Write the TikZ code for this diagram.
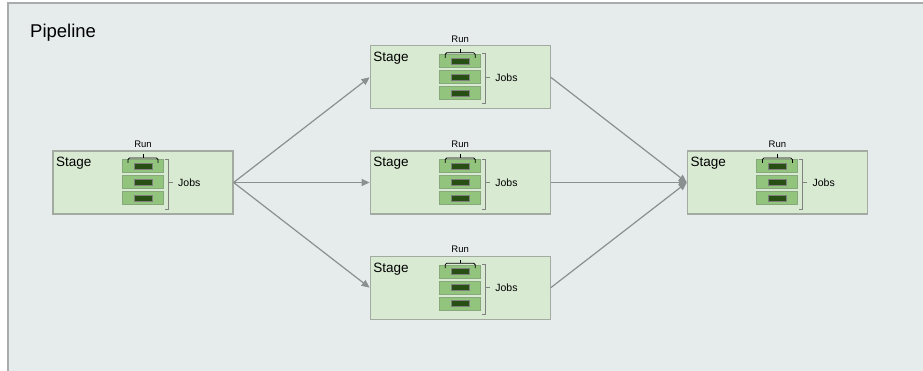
\documentclass[tikz,border=0pt]{standalone}
\usepackage{fontspec}
\setmainfont{Liberation Sans}
\usetikzlibrary{arrows.meta,positioning,calc}
\definecolor{pipebg}{HTML}{E6EBEB}
\definecolor{pipeborder}{HTML}{A8ACAC}
\definecolor{stagebg}{HTML}{D9EAD3}
\definecolor{stageborder}{HTML}{A2AAA2}
\definecolor{jobfill}{HTML}{93C47D}
\definecolor{jobborder}{HTML}{86A87A}
\definecolor{jobcore}{HTML}{274E13}
\definecolor{flowgray}{HTML}{8A8F8F}

\begin{document}
\begin{tikzpicture}[
  x=1pt,y=1pt,
  node distance=41pt and 136pt,
  stage/.style={draw=stageborder,line width=1.2pt,fill=stagebg,
                minimum width=180pt,minimum height=63pt,inner sep=0pt},
  stagelabel/.style={anchor=base west,inner sep=0pt,
                     font=\fontsize{13.5}{15}\selectfont},
  jobbar/.style={draw=jobborder,line width=1pt,fill=jobfill,
                 minimum width=41pt,minimum height=13pt,inner sep=0pt},
  jobinner/.style={draw=gray,line width=0.6pt,fill=jobcore,
                   minimum width=18pt,minimum height=6pt,inner sep=0pt},
  small/.style={inner sep=0pt,font=\fontsize{9.5}{11}\selectfont},
  runbrace/.style={draw=black,line width=0.8pt,rounded corners=1.5pt},
  jobsbrace/.style={draw=gray,line width=0.9pt},
  flow/.style={draw=flowgray,line width=1.2pt,-{Triangle[length=8pt,width=7pt]}}
]
\clip (0,0) rectangle (923,-371);
\fill[white] (0,0) rectangle (923,-371);
\draw[draw=pipeborder,line width=1.2pt,fill=pipebg] (8,-3) rectangle (940,-390);
\node[anchor=base west,inner sep=0pt,font=\fontsize{18.5}{20}\selectfont] (title) at (30,-38) {Pipeline};

\node[stage] (st1) at (143,-182.5) {};
\node[stage,right=of st1] (st3) {};
\node[stage,above=of st3] (st2) {};
\node[stage,below=of st3] (st4) {};
\node[stage,right=of st3] (st5) {};

% stage contents
\foreach \s in {st1,st2,st3,st4,st5}{
  \node[stagelabel] (\s-name) at ($(\s.north west)+(3.5,-16.5)$) {Stage};
  \foreach \dy/\i in {16/a,0/b,-16/c}{
    \node[jobbar] (\s-job\i) at ($(\s.center)+(0,\dy)$) {};
    \node[jobinner] (\s-core\i) at (\s-job\i.center) {};
  }
  \draw[runbrace] ($(\s.center)+(-15,19.5)$) -- ++(0,5) -- ++(30,0) -- ++(0,-5);
  \draw[runbrace] ($(\s.center)+(0,24.5)$) -- ++(0,3.5);
  \node[small] (\s-run) at ($(\s.north)+(0,6)$) {Run};
  \draw[jobsbrace] ($(\s.center)+(22,23.5)$) -- ++(3,0) -- ++(0,-50) -- ++(-3,0);
  \draw[jobsbrace] ($(\s.center)+(26,0)$) -- ++(4,0);
  \node[small,anchor=west,font=\fontsize{10.5}{12}\selectfont] (\s-jobs) at ($(\s.center)+(35,0)$) {Jobs};
}

\draw[flow] (st1.east) -- (st2.west);
\draw[flow] (st1.east) -- (st3.west);
\draw[flow] (st1.east) -- (st4.west);
\draw[flow] (st2.east) -- (st5.west);
\draw[flow] (st3.east) -- (st5.west);
\draw[flow] (st4.east) -- (st5.west);
\end{tikzpicture}
\end{document}
